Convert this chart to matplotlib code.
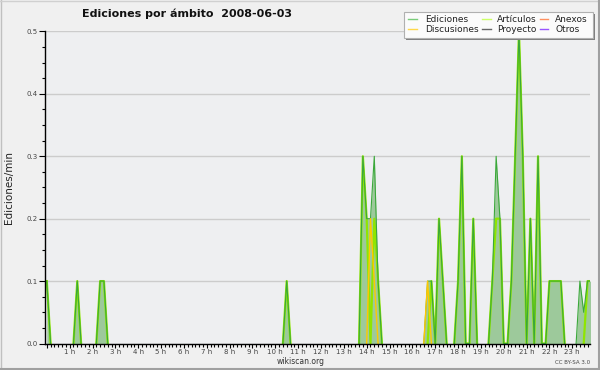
import numpy as np
import matplotlib
matplotlib.use("Agg")
import matplotlib.pyplot as plt
from matplotlib.lines import Line2D
from matplotlib.patches import Rectangle
from matplotlib.ticker import MultipleLocator, FixedLocator, FixedFormatter, FormatStrFormatter

# ---------------- data (10-minute slots, 0 = 00:00 ... 143 = 23:50) ----------------
n_slots = 144
hours = list(range(24))
hour_labels = ["" if h == 0 else f"{h} h" for h in hours]

ediciones_slots = [0, 8, 14, 15, 63, 83, 84, 85, 86, 87, 100, 101, 103, 104, 108, 109,
                   112, 117, 118, 119, 122, 123, 124, 125, 127, 129, 132, 133, 134, 135,
                   140, 141, 142, 143]
ediciones_vals = [0.1, 0.1, 0.1, 0.1, 0.1, 0.3, 0.2, 0.2, 0.3, 0.1, 0.1, 0.1, 0.2, 0.1, 0.1, 0.3,
                  0.2, 0.1, 0.3, 0.2, 0.1, 0.3, 0.5, 0.3, 0.2, 0.3, 0.1, 0.1, 0.1, 0.1,
                  0.1, 0.05, 0.1, 0.1]

articulos_slots = [0, 8, 14, 15, 63, 83, 84, 86, 87, 101, 103, 104, 108, 109,
                   112, 117, 118, 119, 122, 123, 124, 125, 127, 129, 132, 133, 134, 135,
                   142, 143]
articulos_vals = [0.1, 0.1, 0.1, 0.1, 0.1, 0.3, 0.2, 0.2, 0.1, 0.1, 0.2, 0.1, 0.1, 0.3,
                  0.2, 0.1, 0.2, 0.2, 0.1, 0.3, 0.5, 0.3, 0.2, 0.3, 0.1, 0.1, 0.1, 0.1,
                  0.1, 0.1]

discusiones_slots = [85, 86, 100]
discusiones_vals = [0.2, 0.1, 0.1]

anexos_slots, anexos_vals = [], []
proyecto_slots, proyecto_vals = [], []
otros_slots, otros_vals = [], []

legend_names = ["Ediciones", "Discusiones", "Artículos", "Proyecto", "Anexos", "Otros"]
legend_colors = ["#7acc7a", "#ffd84a", "#ccff66", "#666666", "#ff9060", "#9955ff"]


def series(slots, vals):
    a = np.zeros(n_slots)
    a[slots] = vals
    return a


def visible(a):
    # hide stretches that lie flat on the baseline (as in the original)
    nz = a > 0
    keep = nz.copy()
    keep[1:] |= nz[:-1]
    keep[:-1] |= nz[1:]
    return np.ma.masked_where(~keep, a)


ed = series(ediciones_slots, ediciones_vals)
art = series(articulos_slots, articulos_vals)
disc = series(discusiones_slots, discusiones_vals)
x = np.arange(n_slots)

# ---------------- figure ----------------
W, H = 600, 370
fig = plt.figure(figsize=(W / 100, H / 100), dpi=100, facecolor="#f0f0f0")


def fx(px):
    return px / W


def fy(py):
    return 1 - py / H


L, R, T, B = 45.3, 590.0, 31.5, 343.5
ax = fig.add_axes([fx(L), fy(B), (R - L) / W, (B - T) / H])
ax.set_facecolor("#eeeff1")

ax.fill_between(x, 0, ed, color="#9dc99b", lw=0, zorder=1)
ax.plot(x, visible(art), color="#8fe600", lw=1.6, zorder=3)
ax.plot(x, visible(ed), color="#3aa83a", lw=0.8, zorder=4)
ax.plot(x, visible(disc), color="#ffc800", lw=1.0, zorder=5)

ax.set_xlim(-0.4, 142.65)
ax.set_ylim(0, 0.5)

for s in ["top", "right"]:
    ax.spines[s].set_visible(False)
for s in ["left", "bottom"]:
    ax.spines[s].set_color("black")
    ax.spines[s].set_linewidth(1.0)
    ax.spines[s].set_zorder(6)

ax.yaxis.set_major_locator(MultipleLocator(0.1))
ax.yaxis.set_minor_locator(MultipleLocator(0.025))
ax.yaxis.set_major_formatter(FormatStrFormatter("%.1f"))
ax.grid(axis="y", which="major", color="#cccccc", lw=1.0, zorder=0)
ax.set_axisbelow(True)

ax.xaxis.set_major_locator(FixedLocator([6 * h for h in hours]))
ax.xaxis.set_major_formatter(FixedFormatter(hour_labels))
ax.xaxis.set_minor_locator(MultipleLocator(1))

ax.tick_params(axis="y", which="major", length=4.5, width=0.8, direction="out",
               labelsize=5, labelcolor="#444444", pad=1)
ax.tick_params(axis="y", which="minor", length=2.4, width=0.8, direction="out")
ax.tick_params(axis="x", which="major", length=3.2, width=0.8, direction="out",
               labelsize=5, labelcolor="#444444", pad=1)
ax.tick_params(axis="x", which="minor", length=2.2, width=0.8, direction="out")

# y label
fig.text(fx(9.5), fy((T + B) / 2), "Ediciones/min", rotation=90, ha="center", va="center",
         fontsize=7.5, color="#222222")

# title
fig.text(fx(187.5), fy(14), "Ediciones por ámbito  2008-06-03", ha="center", va="center",
         fontsize=8, fontweight="bold", color="#111111")

# footer
fig.text(fx(300.5), fy(361.5), "wikiscan.org", ha="center", va="center", fontsize=5.5,
         color="#333333")
fig.text(fx(590), fy(362), "CC BY-SA 3.0", ha="right", va="center", fontsize=4,
         color="#444444")

# legend (drawn manually)
lx0, lx1, ly0, ly1 = 404, 592.5, 11.7, 37.5
fig.patches.append(Rectangle((fx(lx0 + 2), fy(ly1 + 2)), (lx1 - lx0) / W, (ly1 - ly0) / H,
                             transform=fig.transFigure, facecolor="#7f7f7f", edgecolor="none",
                             zorder=10))
fig.patches.append(Rectangle((fx(lx0), fy(ly1)), (lx1 - lx0) / W, (ly1 - ly0) / H,
                             transform=fig.transFigure, facecolor="#fbfbfb", edgecolor="#b0b0b0",
                             lw=0.8, zorder=11))
col_line = [(408.3, 416.7), (481.7, 490.7), (540.0, 548.3)]
col_text = [425.0, 496.7, 555.0]
row_y = [19.3, 29.0]
for k, (name, color) in enumerate(zip(legend_names, legend_colors)):
    c, r = k // 2, k % 2
    fig.lines.append(Line2D([fx(col_line[c][0]), fx(col_line[c][1])], [fy(row_y[r])] * 2,
                            transform=fig.transFigure, color=color, lw=1.0, zorder=12))
    fig.text(fx(col_text[c]), fy(row_y[r]), name, ha="left", va="center", fontsize=6.5,
             color="#222222", zorder=13)

# outer frame
fig.lines.append(Line2D([fx(0.5), fx(0.5)], [0, 1], transform=fig.transFigure, color="#c0c0c0", lw=1))
fig.lines.append(Line2D([0, 1], [fy(0.5), fy(0.5)], transform=fig.transFigure, color="#d0d0d0", lw=1))
fig.lines.append(Line2D([fx(599), fx(599)], [0, 1], transform=fig.transFigure, color="#a0a0a0", lw=1.5))
fig.lines.append(Line2D([0, 1], [fy(369), fy(369)], transform=fig.transFigure, color="#a0a0a0", lw=1.5))

fig.savefig("out.png", dpi=100, facecolor=fig.get_facecolor())
